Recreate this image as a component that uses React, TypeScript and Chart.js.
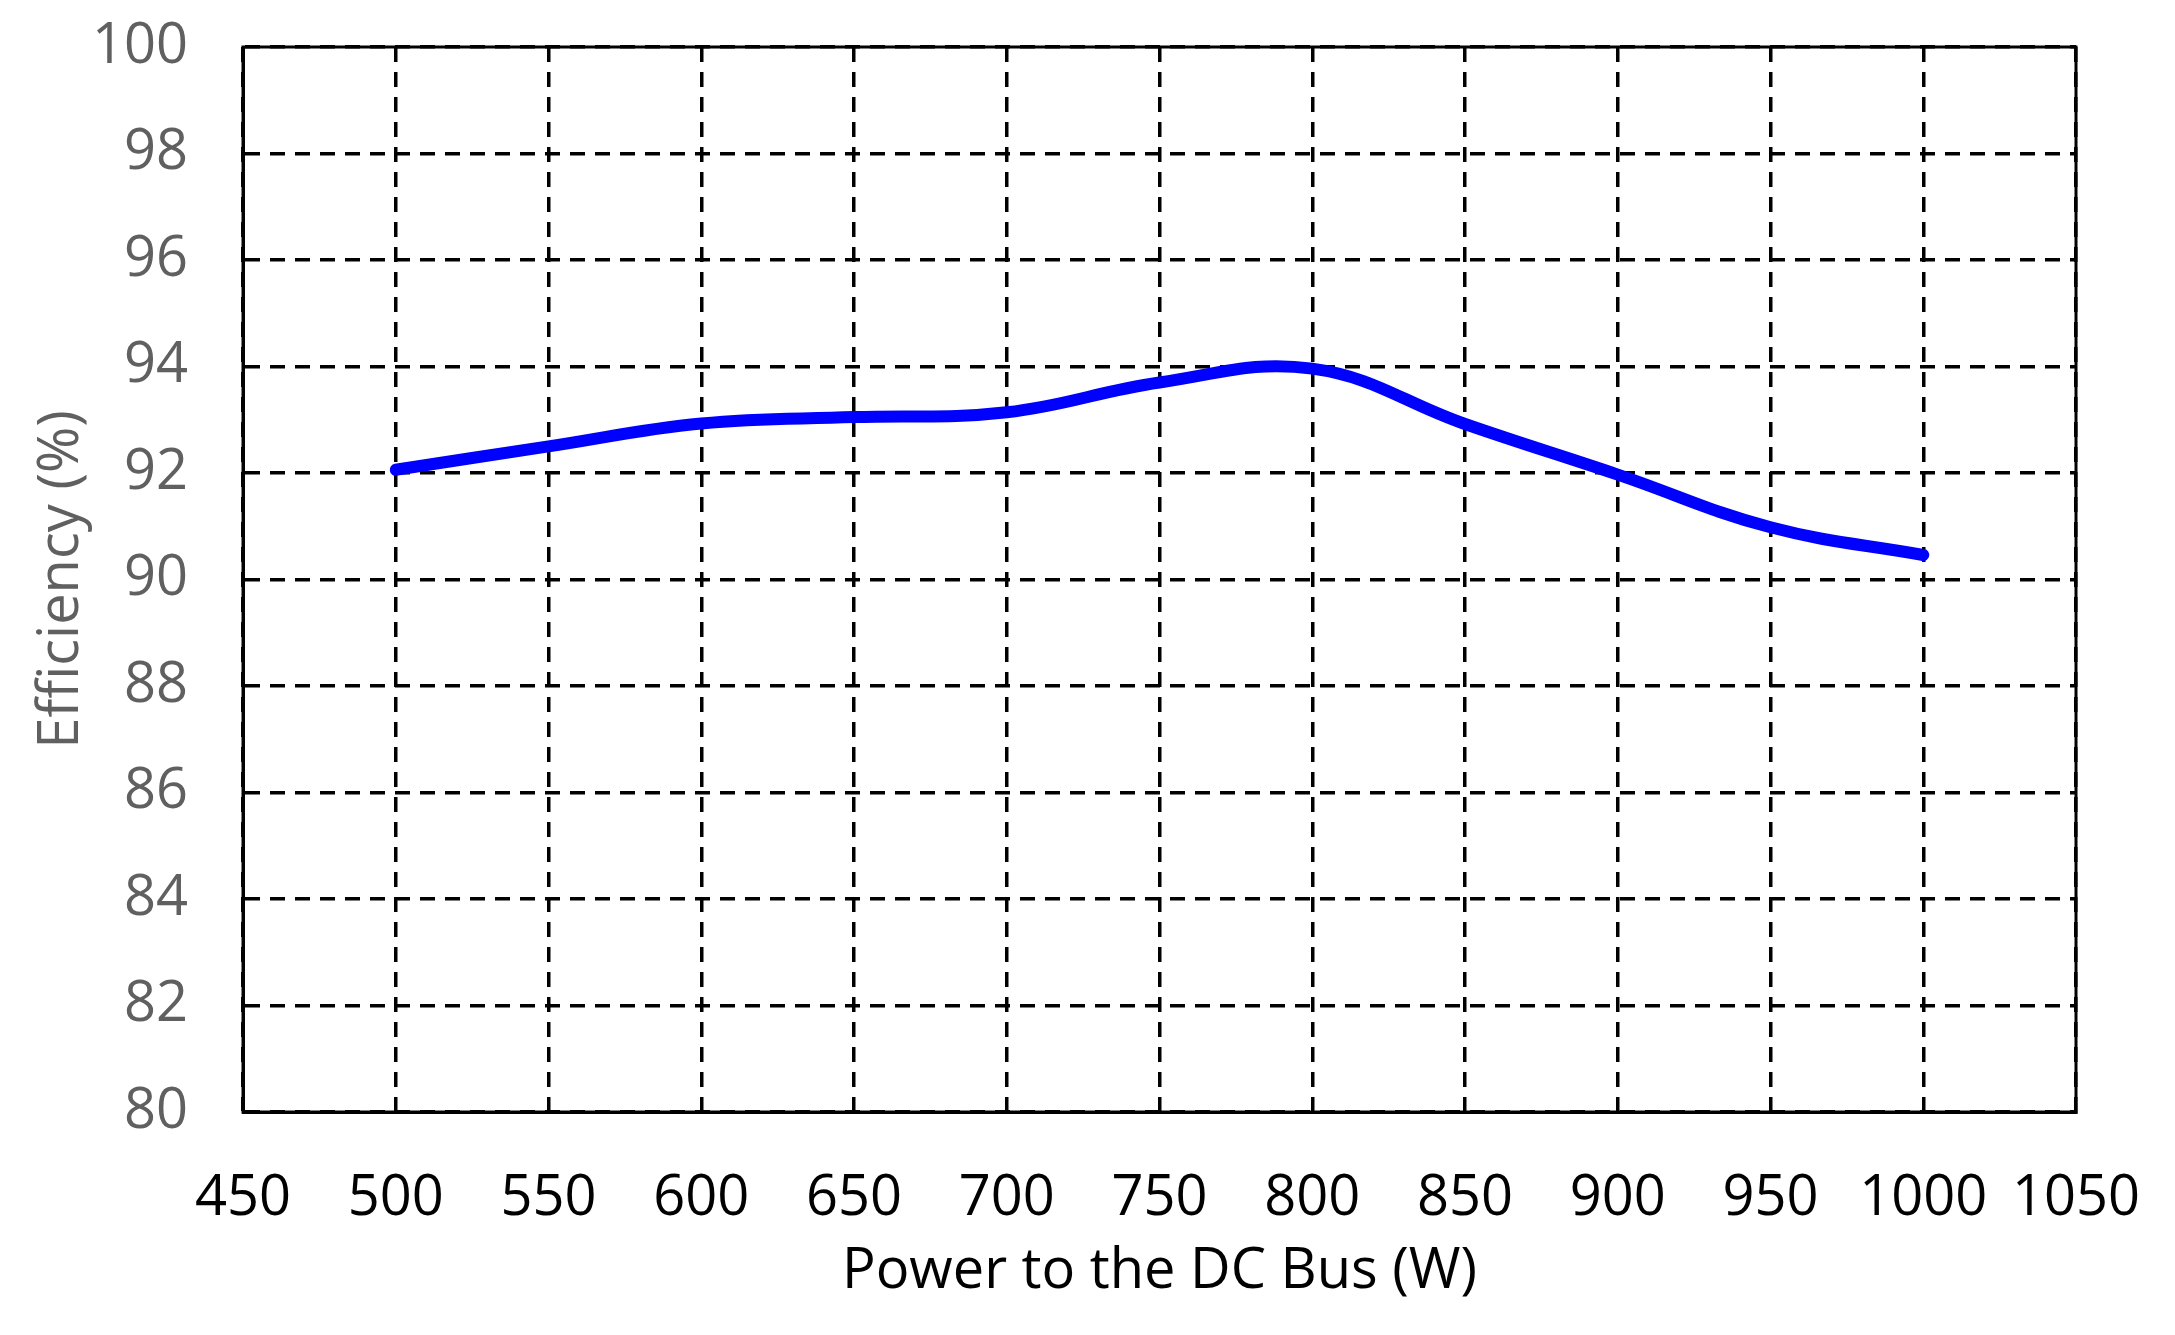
import React, { useEffect, useRef } from "react";
import { Chart, registerables } from "chart.js";

Chart.register(...registerables);

const powerW = [500, 550, 600, 650, 700, 750, 800, 850, 900, 950, 1000];
const efficiency = [92.06, 92.5, 92.93, 93.05, 93.14, 93.7, 93.96, 92.92, 91.97, 90.98, 90.46];

const xTitle = "Power to the DC Bus (W)";
const yTitle = "Efficiency (%)";

const FONT = "'Open Sans', 'Noto Sans', sans-serif";

const framePlugin = {
  id: "frame",
  afterDraw(chart: any) {
    const { ctx, chartArea } = chart;
    ctx.save();
    ctx.strokeStyle = "#000000";
    ctx.lineWidth = 3;
    ctx.setLineDash([]);
    ctx.strokeRect(chartArea.left, chartArea.top, chartArea.right - chartArea.left, chartArea.bottom - chartArea.top);
    ctx.restore();
  },
};

export default function App() {
  const ref = useRef<HTMLCanvasElement | null>(null);

  useEffect(() => {
    if (!ref.current) return;
    const chart = new Chart(ref.current, {
      type: "line",
      data: {
        datasets: [
          {
            data: powerW.map((x, i) => ({ x, y: efficiency[i] })),
            borderColor: "#0000ff",
            backgroundColor: "#0000ff",
            borderWidth: 12,
            pointRadius: 0,
            tension: 0.4,
            borderCapStyle: "round",
            borderJoinStyle: "round",
          },
        ],
      },
      options: {
        animation: false,
        responsive: true,
        maintainAspectRatio: false,
        layout: { padding: { top: 47, right: 99, left: 0, bottom: 0 } },
        plugins: { legend: { display: false }, tooltip: { enabled: false } },
        scales: {
          x: {
            type: "linear",
            min: 450,
            max: 1050,
            afterFit: (s: any) => {
              s.height = 223;
              s.paddingLeft = 0;
              s.paddingRight = 0;
            },
            ticks: {
              stepSize: 50,
              color: "#000000",
              padding: 53,
              font: { family: FONT, size: 56 },
              maxRotation: 0,
              autoSkip: false,
              callback: (v: any) => String(v),
            },
            grid: { color: "#000000", lineWidth: 3.5, drawTicks: false },
            border: { display: true, color: "#000000", width: 3, dash: [15, 10] },
            title: {
              display: true,
              text: xTitle,
              color: "#000000",
              font: { family: FONT, size: 56 },
              padding: { top: 29, bottom: 29 },
            },
          },
          y: {
            min: 80,
            max: 100,
            afterFit: (s: any) => {
              s.width = 243;
              s.paddingTop = 0;
              s.paddingBottom = 0;
            },
            ticks: {
              stepSize: 2,
              color: "#606060",
              padding: 55,
              font: { family: FONT, size: 56 },
            },
            grid: { color: "#000000", lineWidth: 3.5, drawTicks: false },
            border: { display: true, color: "#000000", width: 3, dash: [15, 10] },
            title: {
              display: true,
              text: yTitle,
              color: "#606060",
              font: { family: FONT, size: 56 },
              padding: { top: 28, bottom: 28 },
            },
          },
        },
      },
      plugins: [framePlugin],
    });
    return () => chart.destroy();
  }, []);

  return (
    <div style={{ position: "absolute", left: 0, top: 0, width: 2175, height: 1335, background: "#ffffff" }}>
      <canvas ref={ref} />
    </div>
  );
}
